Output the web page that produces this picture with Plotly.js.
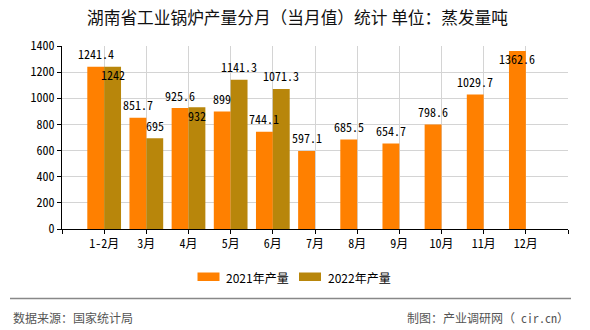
<!DOCTYPE html>
<html>
<head>
<meta charset="utf-8">
<script src="https://cdn.plot.ly/plotly-3.0.1.min.js"></script>
<style>html,body{margin:0;padding:0;background:#fff;}#chart{width:590px;height:330px;}</style>
</head>
<body>
<div id="chart"></div>
<script>
// ---- data ----
const categories = ['1-2月','3月','4月','5月','6月','7月','8月','9月','10月','11月','12月'];
const values2021 = [1241.4, 851.7, 925.6, 899, 744.1, 597.1, 685.5, 654.7, 798.6, 1029.7, 1362.6];
const values2022 = [1242, 695, 932, 1141.3, 1071.3, null, null, null, null, null, null];
const seriesNames = ['2021年产量', '2022年产量'];
const titleText = '湖南省工业锅炉产量分月（当月值）统计 单位：蒸发量吨';
const sourceText = '数据来源：国家统计局';
const creditText = '制图：产业调研网（ cir.cn）';

// ---- layout constants ----
const W = 590, H = 330;
const M = {l: 62, r: 22, t: 46, b: 101};
const PW = W - M.l - M.r, PH = H - M.t - M.b;
const YMAX = 1400;
const colors = ['#FF8000', '#B8860B'];
const monoFont = '"Noto Sans Mono CJK SC", "Liberation Mono", monospace';
const sansFont = '"Noto Sans CJK SC", "Noto Sans", sans-serif';

const px2x = p => (p - M.l) / PW;
const px2y = p => (H - M.b - p) / PH;

const xs = categories.map((c, i) => i);

const traces = [
  {type: 'bar', name: seriesNames[0], x: xs, y: values2021, marker: {color: colors[0]}, hoverinfo: 'none'},
  {type: 'bar', name: seriesNames[1], x: xs, y: values2022, marker: {color: colors[1]}, hoverinfo: 'none'}
];

// value labels
const pxPerUnit = PH / YMAX;
const LABEL_UP = 13, LABEL_IN = -8;
const annotations = [];
values2021.forEach((v, i) => {
  if (v == null) return;
  let ys = LABEL_UP;
  if ((YMAX - v) * pxPerUnit < LABEL_UP + 6) ys = LABEL_IN;
  annotations.push({x: i - 0.2, y: v, xref: 'x', yref: 'y', text: String(v), showarrow: false,
    yshift: ys, font: {family: monoFont, size: 12, color: '#000'}});
});
values2022.forEach((v, i) => {
  if (v == null) return;
  let ys = LABEL_UP;
  const a = values2021[i];
  if (a != null && Math.abs((v - a) * pxPerUnit) < 14) ys = LABEL_IN;
  if ((YMAX - v) * pxPerUnit < LABEL_UP + 6) ys = LABEL_IN;
  annotations.push({x: i + 0.2, y: v, xref: 'x', yref: 'y', text: String(v), showarrow: false,
    yshift: ys, font: {family: monoFont, size: 12, color: '#000'}});
});

// custom legend
const shapes = [];
const legendItems = [{sx: 197.5, tx: 223.5}, {sx: 299, tx: 325.5}];
legendItems.forEach((it, k) => {
  shapes.push({type: 'rect', xref: 'paper', yref: 'paper',
    x0: px2x(it.sx), x1: px2x(it.sx + 22), y0: px2y(281), y1: px2y(272.5),
    fillcolor: colors[k], line: {width: 0}});
  annotations.push({xref: 'paper', yref: 'paper', x: px2x(it.tx), y: px2y(277),
    xanchor: 'left', yanchor: 'middle', text: seriesNames[k], showarrow: false,
    font: {family: sansFont, size: 12, color: '#000'}});
});
// separator line
shapes.push({type: 'line', xref: 'paper', yref: 'paper', x0: px2x(10), x1: px2x(571),
  y0: px2y(298.5), y1: px2y(298.5), line: {color: '#888', width: 1.5}});
// footer
annotations.push({xref: 'paper', yref: 'paper', x: px2x(11), y: px2y(317), xanchor: 'left', yanchor: 'middle',
  text: sourceText, showarrow: false, font: {family: sansFont, size: 12, color: '#555'}});
annotations.push({xref: 'paper', yref: 'paper', x: px2x(571), y: px2y(317), xanchor: 'right', yanchor: 'middle',
  text: creditText, showarrow: false, font: {family: monoFont, size: 12, color: '#555'}});

const tickvals = [-1].concat(xs, [categories.length]);
const ticktext = [''].concat(categories, ['']);

const layout = {
  width: W, height: H,
  margin: M,
  paper_bgcolor: '#fff', plot_bgcolor: '#fff',
  showlegend: false,
  barmode: 'group', bargap: 0.2, bargroupgap: 0,
  title: {text: titleText, x: 297.5 / W, xanchor: 'center', y: 1 - 18 / H, yanchor: 'middle',
    font: {family: sansFont, size: 16.7, color: '#111'}},
  xaxis: {range: [-1, categories.length], tickmode: 'array', tickvals: tickvals, ticktext: ticktext,
    showgrid: true, gridcolor: '#d4d4d4', gridwidth: 1, zeroline: false,
    showline: true, linecolor: '#000', linewidth: 1, ticks: 'outside', ticklen: 4, tickcolor: '#000',
    tickfont: {family: monoFont, size: 12, color: '#000'}, fixedrange: true},
  yaxis: {range: [0, YMAX], dtick: 200, tick0: 0, showgrid: true, gridcolor: '#d4d4d4', gridwidth: 1,
    zeroline: false, showline: true, linecolor: '#000', linewidth: 1, ticks: 'outside', ticklen: 4,
    tickcolor: '#000', tickfont: {family: monoFont, size: 12, color: '#000'}, fixedrange: true},
  annotations: annotations,
  shapes: shapes
};

Plotly.newPlot('chart', traces, layout, {displayModeBar: false, staticPlot: true});
</script>
</body>
</html>
